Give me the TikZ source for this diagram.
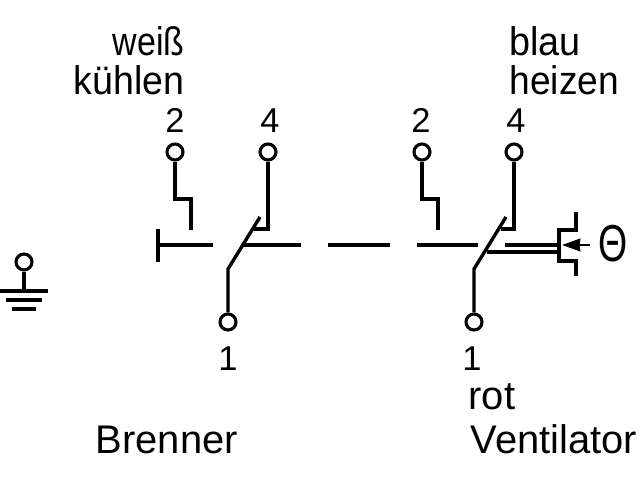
\documentclass[tikz,border=0pt]{standalone}
\usepackage{fontspec}
\setmainfont{Liberation Sans}
\usetikzlibrary{arrows.meta}
\tikzset{
	klemme/.style={circle,draw,fill=white,line width=2.2pt,minimum size=0.4cm,inner sep=0pt},
	schrift/.style={inner sep=0pt,transform shape,font=\fontsize{28.4}{30}\selectfont},
	zahl/.style={inner sep=0pt,font=\fontsize{24.5}{26}\selectfont}
}
\begin{document}
\begin{tikzpicture}[x=0.025cm,y=-0.025cm,line join=miter,line cap=butt,line width=2.4pt,>=Stealth]
	\useasboundingbox (0,0) rectangle (640,480);
	% Klemmen
	\node[klemme] (b2) at (175,152) {};
	\node[klemme] (b4) at (268,152) {};
	\node[klemme] (b1) at (228,322) {};
	\node[klemme] (v2) at (422,152) {};
	\node[klemme] (v4) at (514,152) {};
	\node[klemme] (v1) at (474,322) {};
	\node[klemme] (erde) at (24,262) {};
	% Kontakte Brenner
	\coordinate (b2a) at (175,199);
	\coordinate (b2b) at (191,199);
	\coordinate (b2c) at (191,230);
	\coordinate (b4a) at (268,229);
	\coordinate (b4b) at (254,229);
	\coordinate (bo) at (260,217);
	\coordinate (bu) at (228,269);
	\draw (b2)--(b2a)--(b2b)--(b2c);
	\draw (b4)--(b4a)--(b4b);
	\draw (bo)--(bu)--(b1);
	% Kontakte Ventilator
	\coordinate (v2a) at (422,199);
	\coordinate (v2b) at (438,199);
	\coordinate (v2c) at (438,230);
	\coordinate (v4a) at (514,229);
	\coordinate (v4b) at (501,229);
	\coordinate (vo) at (506,217);
	\coordinate (vu) at (474,269);
	\draw (v2)--(v2a)--(v2b)--(v2c);
	\draw (v4)--(v4a)--(v4b);
	\draw (vo)--(vu)--(v1);
	% Wirklinie
	\draw (158,229)--(158,262);
	\draw (158,245)--(213,245);
	\draw (242,245)--(301,245);
	\draw (328,245)--(390,245);
	\draw (417,245)--(478,245);
	\draw (505,245)--(559,245);
	\draw (487,252)--(559,252);
	% Thermostat
	\draw (576,212)--(576,230)--(559,230)--(559,261)--(576,261)--(576,276);
	\coordinate (pfeil) at (590,245);
	\coordinate (pfeilb) at (562,245);
	\draw[-{Stealth[length=13pt,width=9pt,inset=0.5pt]},line width=1.7pt] (pfeil)--(pfeilb);
	\node[inner sep=0pt,transform shape,xscale=0.72,font=\fontsize{37}{38}\selectfont] (theta) at (613,244) {Θ};
	% Erde
	\coordinate (erdeb) at (24,291);
	\draw (erde)--(erdeb);
	\draw (0,291)--(48,291);
	\draw (6,300)--(42,300);
	\draw (12,309)--(36,309);
	% Beschriftung
	\node[schrift,xscale=0.85,anchor=base east] (weiss) at (186,55) {weiß};
	\node[schrift,xscale=0.94,anchor=base east] (kuehlen) at (186,94) {kühlen};
	\node[schrift,xscale=0.945,anchor=base west] (blau) at (508,56) {blau};
	\node[schrift,xscale=0.93,anchor=base west] (heizen) at (508,94) {heizen};
	\node[zahl,anchor=base] (z2) at (175,132) {2};
	\node[zahl,anchor=base] (z4) at (270,132) {4};
	\node[zahl,anchor=base] (y2) at (421,132) {2};
	\node[zahl,anchor=base] (y4) at (516,132) {4};
	\node[zahl,anchor=base] (z1) at (228,370) {1};
	\node[zahl,anchor=base] (y1) at (472,370) {1};
	\node[schrift,anchor=base west] (rot) at (467,409) {rot};
	\node[schrift,anchor=base west] (brenner) at (94,453) {Brenner};
	\node[schrift,anchor=base west] (ventilator) at (469,453) {Ventilator};
\end{tikzpicture}
\end{document}
